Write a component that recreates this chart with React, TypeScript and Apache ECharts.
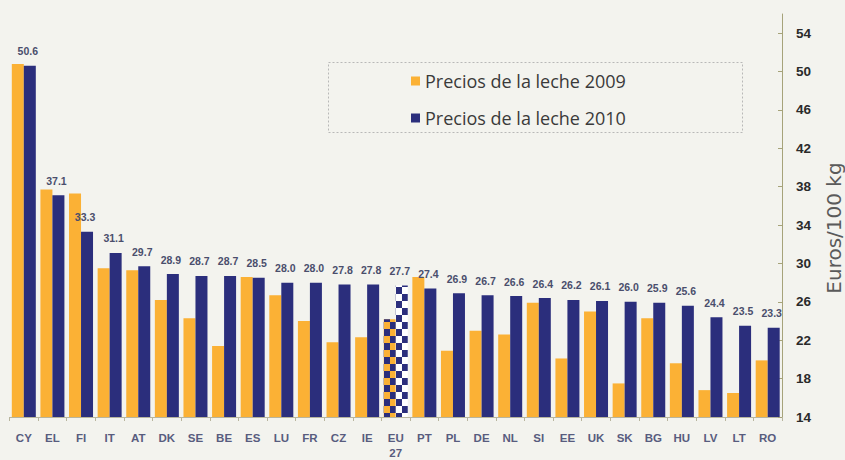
import { useEffect, useRef } from "react";
import * as echarts from "echarts";

const categories = ["CY", "EL", "FI", "IT", "AT", "DK", "SE", "BE", "ES", "LU", "FR", "CZ", "IE", "EU\n27", "PT", "PL", "DE", "NL", "SI", "EE", "UK", "SK", "BG", "HU", "LV", "LT", "RO"];
const prices2009 = [50.8, 37.7, 37.3, 29.5, 29.3, 26.2, 24.3, 21.4, 28.6, 26.7, 24.0, 21.8, 22.3, 24.2, 28.6, 20.9, 23.0, 22.6, 25.9, 20.1, 25.0, 17.5, 24.3, 19.6, 16.8, 16.5, 19.9];
const prices2010 = [50.6, 37.1, 33.3, 31.1, 29.7, 28.9, 28.7, 28.7, 28.5, 28.0, 28.0, 27.8, 27.8, 27.7, 27.4, 26.9, 26.7, 26.6, 26.4, 26.2, 26.1, 26.0, 25.9, 25.6, 24.4, 23.5, 23.3];
const yTicks = [14, 18, 22, 26, 30, 34, 38, 42, 46, 50, 54];
const seriesNames = ["Precios de la leche 2009", "Precios de la leche 2010"];
const highlightCategory = "EU\n27";

const ORANGE = "#fbb135";
const BLUE = "#2b2e7c";

const checker = (color: string) => ({
  symbol: "rect",
  symbolSize: 1,
  color,
  dashArrayX: [[6, 6], [0, 6, 6, 0]],
  dashArrayY: [7, 0],
  rotation: 0,
});

export default function App() {
  const ref = useRef<HTMLDivElement>(null);
  useEffect(() => {
    if (!ref.current) return;
    const chart = echarts.init(ref.current, undefined, { renderer: "svg" });
    const hi = categories.indexOf(highlightCategory);
    const d2009 = prices2009.map((v, i) =>
      i === hi ? { value: v, itemStyle: { color: ORANGE, decal: checker(BLUE) } } : v
    );
    const d2010 = prices2010.map((v, i) =>
      i === hi ? { value: v, itemStyle: { color: "#ffffff", decal: checker(BLUE) } } : v
    );
    chart.setOption({
      animation: false,
      backgroundColor: "#f3f3ee",
      grid: { left: 9.5, right: 63, top: 14, bottom: 42, containLabel: false },
      legend: {
        data: seriesNames,
        orient: "vertical",
        left: 406,
        top: 67,
        itemWidth: 9,
        itemHeight: 9,
        itemGap: 19,
        icon: "rect",
        textStyle: { fontFamily: "Open Sans", fontSize: 18, color: "#3a3a3a" },
      },
      xAxis: {
        type: "category",
        data: categories,
        axisLine: { lineStyle: { color: "#b8b59e", width: 1 } },
        axisTick: { show: true, length: 4, alignWithLabel: false, lineStyle: { color: "#b8b59e" } },
        axisLabel: {
          interval: 0,
          margin: 13,
          fontFamily: "Liberation Sans, Arial, sans-serif",
          fontSize: 11.5,
          fontWeight: "bold",
          color: "#585c7e",
          lineHeight: 15,
        },
      },
      yAxis: {
        type: "value",
        position: "right",
        min: 14,
        max: 56,
        splitLine: { show: false },
        axisLine: { show: true, lineStyle: { color: "#a6a37a", width: 1 } },
        axisTick: { show: true, inside: true, length: 4, customValues: yTicks, lineStyle: { color: "#a6a37a" } },
        axisLabel: {
          customValues: yTicks,
          margin: 14,
          fontFamily: "Liberation Sans, Arial, sans-serif",
          fontSize: 13.5,
          fontWeight: "bold",
          color: "#2a2a2a",
        },
      },
      series: [
        {
          name: seriesNames[0],
          type: "bar",
          data: d2009,
          barWidth: 12,
          barGap: "0%",
          itemStyle: { color: ORANGE },
        },
        {
          name: seriesNames[1],
          type: "bar",
          data: d2010,
          barWidth: 12,
          barGap: "0%",
          itemStyle: { color: BLUE },
          label: {
            show: true,
            position: "top",
            distance: 9,
            offset: [-2, 0],
            formatter: (p: any) => Number(p.value).toFixed(1),
            fontFamily: "Liberation Sans, Arial, sans-serif",
            fontSize: 10.5,
            fontWeight: "bold",
            color: "#4a4e6c",
          },
        },
      ],
      graphic: [
        {
          type: "rect",
          shape: { x: 328.5, y: 62.5, width: 414, height: 70 },
          style: { fill: "none", stroke: "#a8a8a8", lineWidth: 0.8, lineDash: [2, 2] },
          silent: true,
        },
        {
          type: "text",
          x: 834,
          y: 228,
          rotation: Math.PI / 2,
          style: {
            text: "Euros/100 kg",
            align: "center",
            verticalAlign: "middle",
            fontFamily: "DejaVu Sans",
            fontSize: 20,
            fill: "#5a5a5a",
          },
          silent: true,
        },
      ],
    });
    return () => chart.dispose();
  }, []);
  return <div ref={ref} style={{ width: 845, height: 460, position: "absolute", left: 0, top: 0 }} />;
}
